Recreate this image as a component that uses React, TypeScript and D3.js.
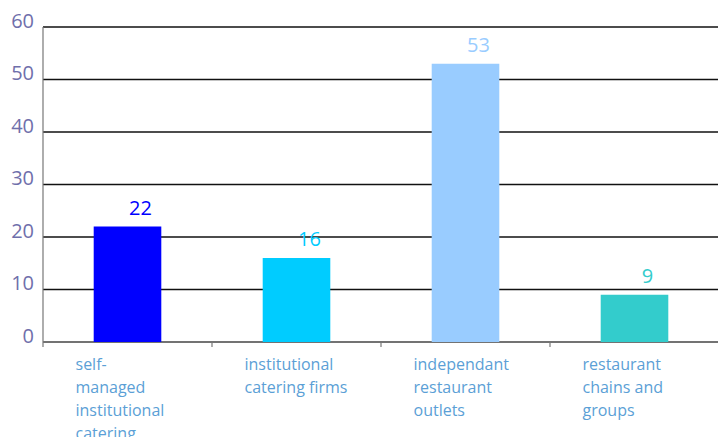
import React from "react";
import * as d3 from "d3";

const categories = [
  "self-managed institutional catering",
  "institutional catering firms",
  "independant restaurant outlets",
  "restaurant chains and groups",
];
const categoryLines = [
  ["self-", "managed", "institutional", "catering"],
  ["institutional", "catering firms"],
  ["independant", "restaurant", "outlets"],
  ["restaurant", "chains and", "groups"],
];
const values = [22, 16, 53, 9];
const colors = ["#0000ff", "#00ccff", "#99ccff", "#33cccc"];
const yTicks = [0, 10, 20, 30, 40, 50, 60];

const W = 718;
const H = 437;
const M = { left: 43, right: 0, top: 27, bottom: 95 };

export default function App() {
  const x = d3
    .scaleBand<string>()
    .domain(categories)
    .range([M.left, W - M.right + 1])
    .paddingInner(0.6)
    .paddingOuter(0.3);
  const band = d3.scaleBand<string>().domain(categories).range([M.left, W - M.right + 1]);
  const y = d3.scaleLinear().domain([0, 60]).range([H - M.bottom, M.top]);
  const font = "'Open Sans', 'DejaVu Sans', sans-serif";

  return (
    <svg
      width={W}
      height={H}
      style={{ position: "absolute", left: 0, top: 0, background: "#fff" }}
      fontFamily={font}
    >
      {/* gridlines */}
      {yTicks.map((t) => (
        <line
          key={"g" + t}
          x1={M.left}
          x2={W}
          y1={y(t)}
          y2={y(t)}
          stroke={t === 0 ? "#444" : "#111"}
          strokeWidth={1.5}
        />
      ))}
      {/* y axis */}
      <line x1={M.left} x2={M.left} y1={M.top} y2={y(0) + 5} stroke="#777" strokeWidth={1.2} />
      {yTicks.map((t) => (
        <text
          key={"t" + t}
          x={34}
          y={y(t) + 0.5}
          textAnchor="end"
          fontSize={20}
          fill="#6f6fab"
        >
          {t}
        </text>
      ))}
      {/* category ticks */}
      {categories.slice(1).map((c) => (
        <line
          key={"ct" + c}
          x1={band(c)!}
          x2={band(c)!}
          y1={y(0)}
          y2={y(0) + 5}
          stroke="#777"
          strokeWidth={1.2}
        />
      ))}
      {/* bars */}
      {categories.map((c, i) => (
        <rect
          key={"b" + c}
          x={x(c)!}
          y={y(values[i])}
          width={x.bandwidth()}
          height={y(0) - y(values[i])}
          fill={colors[i]}
        />
      ))}
      {/* value labels */}
      {categories.map((c, i) => (
        <text
          key={"v" + c}
          x={x(c)! + x.bandwidth() / 2 + 13}
          y={y(values[i]) - 12}
          textAnchor="middle"
          fontSize={20}
          fill={colors[i]}
        >
          {values[i]}
        </text>
      ))}
      {/* category labels */}
      {categories.map((c, i) => (
        <text
          key={"c" + c}
          x={x(c)! + x.bandwidth() / 2 - 52}
          y={370}
          fontSize={16}
          fill="#5b9fd6"
        >
          {categoryLines[i].map((l, j) => (
            <tspan key={j} x={x(c)! + x.bandwidth() / 2 - 52} dy={j === 0 ? 0 : 23}>
              {l}
            </tspan>
          ))}
        </text>
      ))}
    </svg>
  );
}
